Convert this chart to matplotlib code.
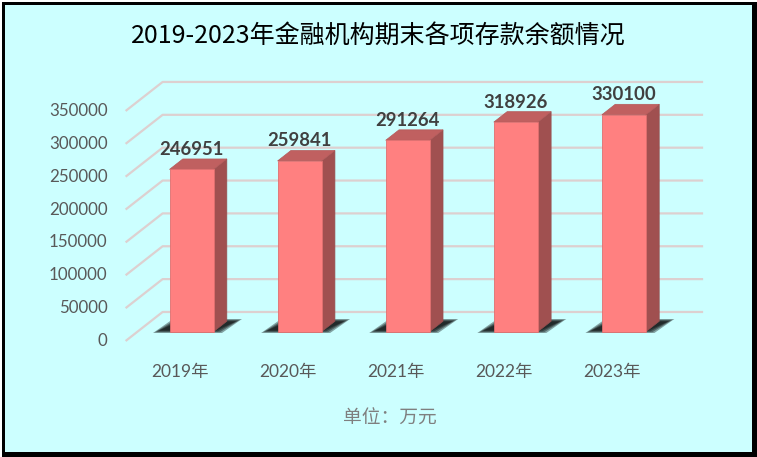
import matplotlib
matplotlib.use("Agg")
import matplotlib.pyplot as plt
from matplotlib.patches import Polygon, Rectangle

plt.rcParams['font.family'] = ['Lato', 'Noto Sans CJK SC', 'DejaVu Sans']

# ---- data ----
categories = ['2019年', '2020年', '2021年', '2022年', '2023年']
values = [246951, 259841, 291264, 318926, 330100]
yticks = [0, 50000, 100000, 150000, 200000, 250000, 300000, 350000]
title = '2019-2023年金融机构期末各项存款余额情况'
unit_text = '单位：万元'

# ---- geometry (pixel-based oblique projection) ----
W_PX, H_PX = 757, 457
X0_PX = 191.5          # pixel x of first category center (front face)
CAT_PX = 108.1         # pixels per category
Y0_PX = 331.7          # pixel y (from top) of value 0 on bar front plane
VAL_PER_PX = 1521.6    # value units per pixel
DXF = 37 / CAT_PX      # full depth offset in category units
DYF = 29 * VAL_PER_PX  # full depth offset in value units
F0, F1 = 0.32, 0.68    # bar front / back depth fractions
BAR_W = 44 / CAT_PX

fig = plt.figure(figsize=(W_PX / 100, H_PX / 100), dpi=100, facecolor='white')
fig.patches.append(Rectangle((2 / W_PX, 0), 755 / W_PX, 455 / H_PX, transform=fig.transFigure,
                             facecolor='black', edgecolor='none', zorder=-3))
fig.patches.append(Rectangle((5 / W_PX, 5 / H_PX), 747 / W_PX, 447 / H_PX, transform=fig.transFigure,
                             facecolor='#CCFFFF', edgecolor='none', zorder=-2))

ax = fig.add_axes([0, 0, 1, 1])
ax.set_xlim(-X0_PX / CAT_PX, (W_PX - X0_PX) / CAT_PX)
ax.set_ylim((Y0_PX - H_PX) * VAL_PER_PX, Y0_PX * VAL_PER_PX)
ax.axis('off')
ax.patch.set_visible(False)


def P(i, v, f):
    return (i + (f - F0) * DXF, v + (f - F0) * DYF)


n = len(categories)
xs = list(range(n))
left, right = -0.5, n - 0.5

# gridlines (side wall + back wall)
grid_c = '#DDD0D0'
for t in yticks:
    p1 = P(left, t, 0)
    p2 = P(left, t, 1)
    p3 = P(right, t, 1)
    ax.plot([p1[0], p2[0], p3[0]], [p1[1], p2[1], p3[1]], color=grid_c, lw=1.6,
            zorder=1, solid_capstyle='butt')
    ax.text(p1[0] - 18 / CAT_PX, p1[1], f'{t}', ha='right', va='center',
            fontsize=12.2, color='#595959')

# shadows
shadow_px = [(-38.5, 1.3), (30.5, 1.3), (50.5, -12.7), (-18.5, -12.7)]
for i in xs:
    for k, shrink in enumerate([0, 2, 4, 6]):
        pts = []
        for j, (dx, dy) in enumerate(shadow_px):
            sx = shrink if j in (0, 3) else -shrink
            sy = -shrink * 0.4 if j in (0, 1) else shrink * 0.4
            pts.append((i + (dx + sx) / CAT_PX, -(dy + sy) * VAL_PER_PX))
        ax.add_patch(Polygon(pts, closed=True, facecolor='black', edgecolor='none',
                             alpha=0.36, zorder=2))

# bars
ax.bar(xs, values, width=BAR_W, color='#FF8080', edgecolor='#E07070', linewidth=0.6, zorder=4)
for i, v in zip(xs, values):
    r = i + BAR_W / 2
    l = i - BAR_W / 2
    side = [P(r, 0, F0), P(r, 0, F1), P(r, v, F1), P(r, v, F0)]
    top = [P(l, v, F0), P(r, v, F0), P(r, v, F1), P(l, v, F1)]
    ax.add_patch(Polygon(side, closed=True, facecolor='#A05050', edgecolor='#955050',
                         lw=0.5, zorder=3))
    ax.add_patch(Polygon(top, closed=True, facecolor='#C06060', edgecolor='#B55A5A',
                         lw=0.5, zorder=3))
    ax.text(i, v + (F1 - F0) * DYF + 4 * VAL_PER_PX, f'{v}', ha='center', va='baseline',
            fontsize=13.3, fontweight='bold', color='#404040', zorder=5)

# category labels on front plane
for i, c in zip(xs, categories):
    px, py = P(i, 0, 0)
    ax.text(px, py - 31 * VAL_PER_PX, c, ha='center', va='center', fontsize=12.5,
            color='#595959')

fig.text(0.5, 1 - 37 / H_PX, title, ha='center', va='center', fontsize=18,
         color='black', family=['Noto Sans CJK SC', 'DejaVu Sans'])
fig.text(389.5 / W_PX, 1 - 418 / H_PX, unit_text, ha='center', va='center', fontsize=13.5,
         color='#7F7F7F', family=['Noto Sans CJK SC', 'DejaVu Sans'])

fig.savefig('out.png', dpi=100, facecolor=fig.get_facecolor())
